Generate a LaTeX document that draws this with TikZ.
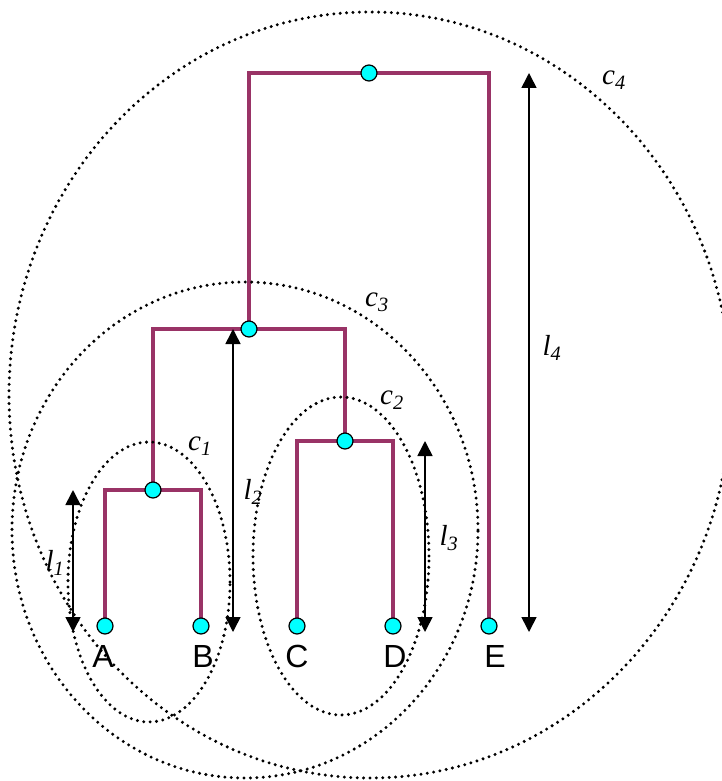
\documentclass[tikz,border=0pt]{standalone}
\usepackage{fontspec}
\setmainfont{Liberation Serif}
\newfontfamily\arialfont{Liberation Sans}
\usetikzlibrary{arrows.meta,backgrounds}
\definecolor{branch}{HTML}{993366}
\definecolor{vertex}{HTML}{00FFFF}
\newcommand{\leaffont}{\fontsize{32}{36}\selectfont\arialfont}
\newcommand{\varfont}{\fontsize{29}{32}\selectfont\itshape}
\newcommand{\sym}[2]{#1\textsubscript{#2}}
\begin{document}
\begin{tikzpicture}[x=1pt,y=-1pt,
  vtx/.style={circle,draw=black,line width=1.2pt,fill=vertex,minimum size=16pt,inner sep=0},
  twig/.style={branch,line width=4pt},
  clus/.style={line width=3.3pt,line cap=round,dash pattern=on 0pt off 6.4pt},
  lenarrow/.style={line width=1.6pt,{Triangle[length=15pt,width=15pt]}-{Triangle[length=15pt,width=15pt]}},
  leaflbl/.style={font=\leaffont,inner sep=0,anchor=north},
  symlbl/.style={font=\varfont,inner sep=0}]
\useasboundingbox (0,0) rectangle (721,781);
% tree vertices
\node[vtx] (a) at (105,626) {};
\node[vtx] (b) at (201,626) {};
\node[vtx] (c) at (297,626) {};
\node[vtx] (d) at (393,626) {};
\node[vtx] (e) at (489,626) {};
\node[vtx] (ab) at (153,490) {};
\node[vtx] (cd) at (345,441) {};
\node[vtx] (abcd) at (249,329) {};
\node[vtx] (root) at (369,73) {};
\begin{scope}[on background layer]
\draw[twig] (a.center) |- (ab.center) -| (b.center);
\draw[twig] (c.center) |- (cd.center) -| (d.center);
\draw[twig] (ab.center) |- (abcd.center) -| (cd.center);
\draw[twig] (abcd.center) |- (root.center) -| (e.center);
% clusters
\draw[clus] (149,582) ellipse [x radius=81pt,y radius=140pt];
\draw[clus] (341,556) ellipse [x radius=88pt,y radius=159pt];
\draw[clus] (245,530) ellipse [x radius=233pt,y radius=248pt];
\draw[clus] (370,395) ellipse [x radius=361pt,y radius=383pt];
\end{scope}
% leaf names
\node[leaflbl] (alb) at (103,645) {A};
\node[leaflbl] (blb) at (203,645) {B};
\node[leaflbl] (clb) at (297,645) {C};
\node[leaflbl] (dlb) at (395,645) {D};
\node[leaflbl] (elb) at (495,645) {E};
% heights
\coordinate (l1top) at (73,490);
\coordinate (l1bot) at (73,632);
\coordinate (l2top) at (233,329);
\coordinate (l2bot) at (233,632);
\coordinate (l3top) at (425,441);
\coordinate (l3bot) at (425,632);
\coordinate (l4top) at (529,73);
\coordinate (l4bot) at (529,632);
\draw[lenarrow] (l1top) -- (l1bot);
\draw[lenarrow] (l2top) -- (l2bot);
\draw[lenarrow] (l3top) -- (l3bot);
\draw[lenarrow] (l4top) -- (l4bot);
\node[symlbl] (l1lb) at (55,563) {\sym{l}{1}};
\node[symlbl] (l2lb) at (253,492) {\sym{l}{2}};
\node[symlbl] (l3lb) at (449,538) {\sym{l}{3}};
\node[symlbl] (l4lb) at (552,348) {\sym{l}{4}};
\node[symlbl] (c1lb) at (200,446) {\sym{c}{1}};
\node[symlbl] (c2lb) at (392,400) {\sym{c}{2}};
\node[symlbl] (c3lb) at (377,302) {\sym{c}{3}};
\node[symlbl] (c4lb) at (614,80) {\sym{c}{4}};
\end{tikzpicture}
\end{document}
